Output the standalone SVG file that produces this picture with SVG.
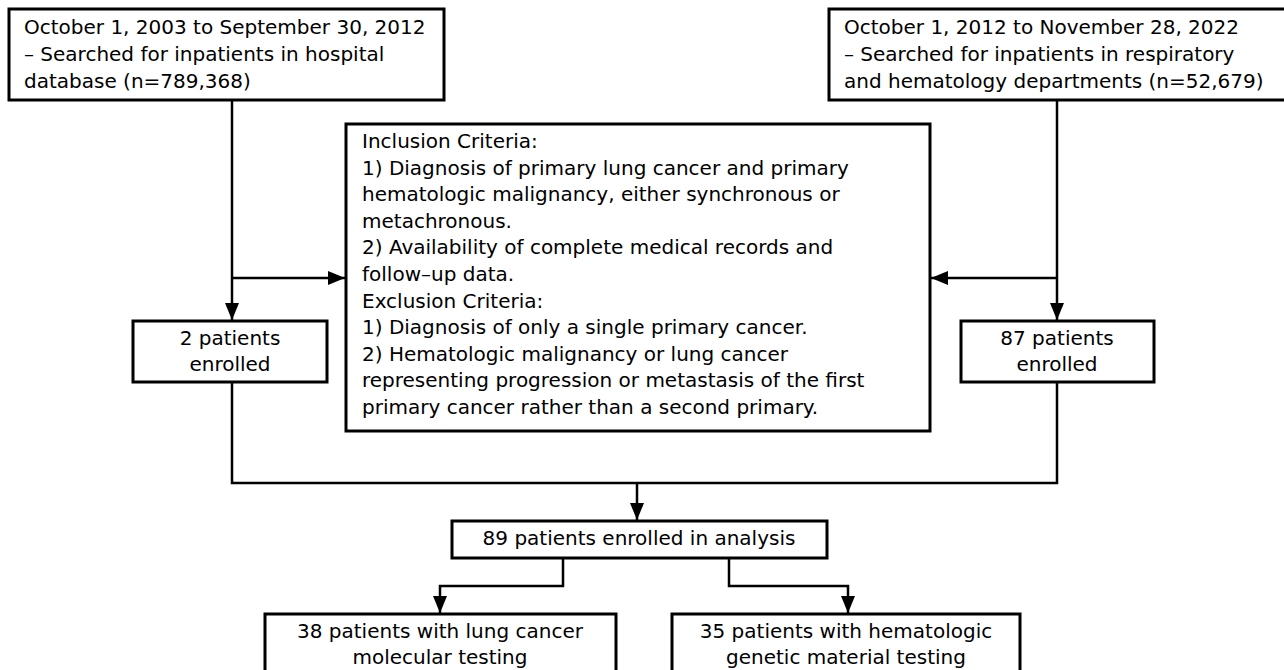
<svg xmlns="http://www.w3.org/2000/svg" width="1284" height="670" viewBox="0 0 1284 670">
<style>
.box{fill:#fff;stroke:#000;stroke-width:3}
.t{font-family:"DejaVu Sans","Liberation Sans",Arial,sans-serif;font-size:20px;fill:#000}
.c{text-anchor:middle}
.ln{fill:none;stroke:#000;stroke-width:2.5}
</style>
<defs>
<marker id="ah" viewBox="0 0 17 14" refX="17" refY="7" markerWidth="17" markerHeight="14" markerUnits="userSpaceOnUse" orient="auto">
<path d="M0,0 L17,7 L0,14 Z" fill="#000"/>
</marker>
</defs>
<rect width="1284" height="670" fill="#fff"/>
<g id="connectors">
<path class="ln" d="M232,100 V320" marker-end="url(#ah)"/>
<path class="ln" d="M232,278 H345" marker-end="url(#ah)"/>
<path class="ln" d="M1057,100 V320" marker-end="url(#ah)"/>
<path class="ln" d="M1057,278 H931" marker-end="url(#ah)"/>
<path class="ln" d="M232,382 V483 H1057 V382"/>
<path class="ln" d="M637,483 V520" marker-end="url(#ah)"/>
<path class="ln" d="M563,558 V586 H440 V613" marker-end="url(#ah)"/>
<path class="ln" d="M729,558 V586 H848 V613" marker-end="url(#ah)"/>
</g>
<g id="n1">
<rect class="box" x="9" y="9" width="435" height="91"/>
<text class="t" x="24" y="34">October 1, 2003 to September 30, 2012</text>
<text class="t" x="24" y="61">– Searched for inpatients in hospital</text>
<text class="t" x="24" y="88">database (n=789,368)</text>
</g>
<g id="n2">
<rect class="box" x="829" y="9" width="460" height="91"/>
<text class="t" x="844" y="34">October 1, 2012 to November 28, 2022</text>
<text class="t" x="844" y="61">– Searched for inpatients in respiratory</text>
<text class="t" x="844" y="88">and hematology departments (n=52,679)</text>
</g>
<g id="n3">
<rect class="box" x="346" y="124" width="584" height="307"/>
<text class="t" x="362" y="148">Inclusion Criteria:</text>
<text class="t" x="362" y="174.6">1) Diagnosis of primary lung cancer and primary</text>
<text class="t" x="362" y="201.2">hematologic malignancy, either synchronous or</text>
<text class="t" x="362" y="227.8">metachronous.</text>
<text class="t" x="362" y="254.4">2) Availability of complete medical records and</text>
<text class="t" x="362" y="281">follow–up data.</text>
<text class="t" x="362" y="307.6">Exclusion Criteria:</text>
<text class="t" x="362" y="334.2">1) Diagnosis of only a single primary cancer.</text>
<text class="t" x="362" y="360.8">2) Hematologic malignancy or lung cancer</text>
<text class="t" x="362" y="387.4">representing progression or metastasis of the first</text>
<text class="t" x="362" y="414">primary cancer rather than a second primary.</text>
</g>
<g id="n4">
<rect class="box" x="133" y="321" width="194" height="61"/>
<text class="t c" x="230" y="345">2 patients</text>
<text class="t c" x="230" y="371">enrolled</text>
</g>
<g id="n5">
<rect class="box" x="961" y="321" width="193" height="61"/>
<text class="t c" x="1057" y="345">87 patients</text>
<text class="t c" x="1057" y="371">enrolled</text>
</g>
<g id="n6">
<rect class="box" x="452" y="521" width="375" height="37"/>
<text class="t c" x="639" y="545">89 patients enrolled in analysis</text>
</g>
<g id="n7">
<rect class="box" x="265" y="614" width="351" height="70"/>
<text class="t c" x="440" y="638">38 patients with lung cancer</text>
<text class="t c" x="440" y="664">molecular testing</text>
</g>
<g id="n8">
<rect class="box" x="672" y="614" width="348" height="70"/>
<text class="t c" x="846" y="638">35 patients with hematologic</text>
<text class="t c" x="846" y="664">genetic material testing</text>
</g>
</svg>
